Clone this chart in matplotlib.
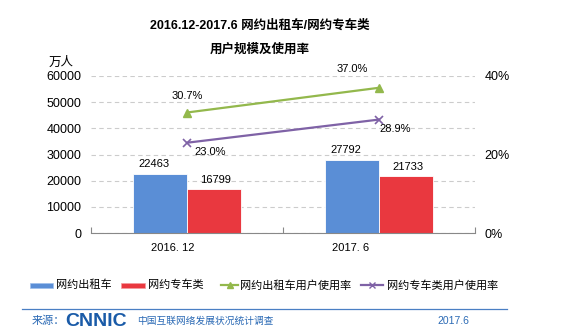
import matplotlib
matplotlib.use("Agg")
import matplotlib.pyplot as plt
from matplotlib.lines import Line2D
from matplotlib.patches import Rectangle

plt.rcParams['font.family'] = ['Liberation Sans', 'Noto Sans CJK SC', 'DejaVu Sans']

categories = ["2016. 12", "2017. 6"]
taxi_users = [22463, 27792]
car_users = [16799, 21733]
taxi_rate = [0.307, 0.370]
car_rate = [0.230, 0.289]
series_names = ["网约出租车", "网约专车类", "网约出租车用户使用率", "网约专车类用户使用率"]

BLUE = "#5A8ED6"
RED = "#E9383F"
GREEN = "#93B84C"
PURPLE = "#7F62A6"
FOOT = "#2B6AB5"

W, H = 562, 336
fig = plt.figure(figsize=(W / 100, H / 100), dpi=100)
fig.patch.set_facecolor("white")

ax = fig.add_axes([91 / W, 1 - 233 / H, 384 / W, 157 / H])
ax.set_facecolor("none")
ax.set_xlim(-0.5, 1.5)
ax.set_ylim(0, 60000)
ax.set_yticks(range(0, 60001, 10000))
ax.tick_params(axis="y", length=0, pad=7, labelsize=9)
ax.yaxis.grid(True, linestyle=(0, (4, 3)), color="#cccccc", linewidth=0.8)
ax.set_axisbelow(True)
for s in ["left", "right", "top"]:
    ax.spines[s].set_visible(False)
ax.spines["bottom"].set_color("#888888")
ax.set_xticks([-0.5, 0.5, 1.5])
ax.set_xticklabels([])
ax.tick_params(axis="x", direction="in", length=4, color="#888888")

bw = 0.28
xs = [0, 1]
ax.bar([x - bw / 2 for x in xs], taxi_users, width=bw, color=BLUE,
       edgecolor="white", linewidth=0.6, zorder=2)
ax.bar([x + bw / 2 for x in xs], car_users, width=bw, color=RED,
       edgecolor="white", linewidth=0.6, zorder=2)
for x, v in zip(xs, taxi_users):
    ax.annotate(str(v), (x - bw / 2, v), xytext=(-6, 10), textcoords="offset pixels",
                ha="center", va="center", fontsize=8)
for x, v in zip(xs, car_users):
    ax.annotate(str(v), (x + bw / 2, v), xytext=(2, 9), textcoords="offset pixels",
                ha="center", va="center", fontsize=8)

for x, lab, dx in zip(xs, categories, [-14, -28]):
    ax.annotate(lab, (x, 0), xytext=(dx, -15), textcoords="offset pixels",
                ha="center", va="center", fontsize=8)

ax2 = ax.twinx()
ax2.set_ylim(0, 0.4)
ax2.set_yticks([0, 0.2, 0.4])
ax2.set_yticklabels(["0%", "20%", "40%"])
ax2.tick_params(axis="y", length=0, pad=7, labelsize=9)
for s in ["left", "right", "top", "bottom"]:
    ax2.spines[s].set_visible(False)
ax2.plot(xs, taxi_rate, color=GREEN, lw=1.6, marker="^", ms=6, zorder=3)
ax2.plot(xs, car_rate, color=PURPLE, lw=1.6, marker="x", ms=6, mew=1.2, zorder=3)
for x, v, off in zip(xs, taxi_rate, [(0, 17), (-27, 19)]):
    ax2.annotate(f"{v*100:.1f}%", (x, v), xytext=off, textcoords="offset pixels",
                 ha="center", va="center", fontsize=8)
for x, v, off in zip(xs, car_rate, [(23, -9), (16, -9)]):
    ax2.annotate(f"{v*100:.1f}%", (x, v), xytext=off, textcoords="offset pixels",
                 ha="center", va="center", fontsize=8)

# titles
fig.text(260 / W, 1 - 26 / H, "2016.12-2017.6 网约出租车/网约专车类", ha="center", va="center",
         fontsize=9, fontweight="bold")
fig.text(260 / W, 1 - 50 / H, "用户规模及使用率", ha="center", va="center",
         fontsize=9, fontweight="bold")
fig.text(61 / W, 1 - 63 / H, "万人", ha="center", va="center", fontsize=9)

# legend
ly = 1 - 285 / H
def fx(p):
    return p / W
fig.add_artist(Rectangle((fx(30), ly - 2.5 / H), 23 / W, 5 / H, facecolor=BLUE,
                         edgecolor="#9fc0ec", lw=0.5, transform=fig.transFigure))
fig.text(fx(56), ly, series_names[0], va="center", fontsize=8)
fig.add_artist(Rectangle((fx(121), ly - 2.5 / H), 24 / W, 5 / H, facecolor=RED,
                         edgecolor="#f39a9d", lw=0.5, transform=fig.transFigure))
fig.text(fx(148), ly, series_names[1], va="center", fontsize=8)
fig.add_artist(Line2D([fx(221), fx(238)], [ly, ly], color=GREEN, lw=1.6,
                      transform=fig.transFigure))
fig.add_artist(Line2D([fx(229.5)], [ly], color=GREEN, marker="^", ms=5,
                      transform=fig.transFigure))
fig.text(fx(240), ly, series_names[2], va="center", fontsize=8)
fig.add_artist(Line2D([fx(361), fx(383)], [ly, ly], color=PURPLE, lw=1.6,
                      transform=fig.transFigure))
fig.add_artist(Line2D([fx(372)], [ly], color=PURPLE, marker="x", ms=5, mew=1,
                      transform=fig.transFigure))
fig.text(fx(387), ly, series_names[3], va="center", fontsize=8)

# footer
fy = 1 - 309 / H
fig.add_artist(Line2D([fx(22), fx(507)], [fy, fy], color="#4a7fc4", lw=0.9,
                      transform=fig.transFigure))
ty = 1 - 321 / H
fig.text(fx(32), ty, "来源：", va="center", fontsize=8, color=FOOT)
fig.text(fx(65), ty, "CNNIC", va="center", fontsize=14, fontweight="bold", color="#1A5BA8")
fig.text(fx(137), ty, "中国互联网络发展状况统计调查", va="center", fontsize=7, color=FOOT)
fig.text(fx(437), ty, "2017.6", va="center", fontsize=7.5, color=FOOT)

fig.savefig("out.png", dpi=100, facecolor="white")
